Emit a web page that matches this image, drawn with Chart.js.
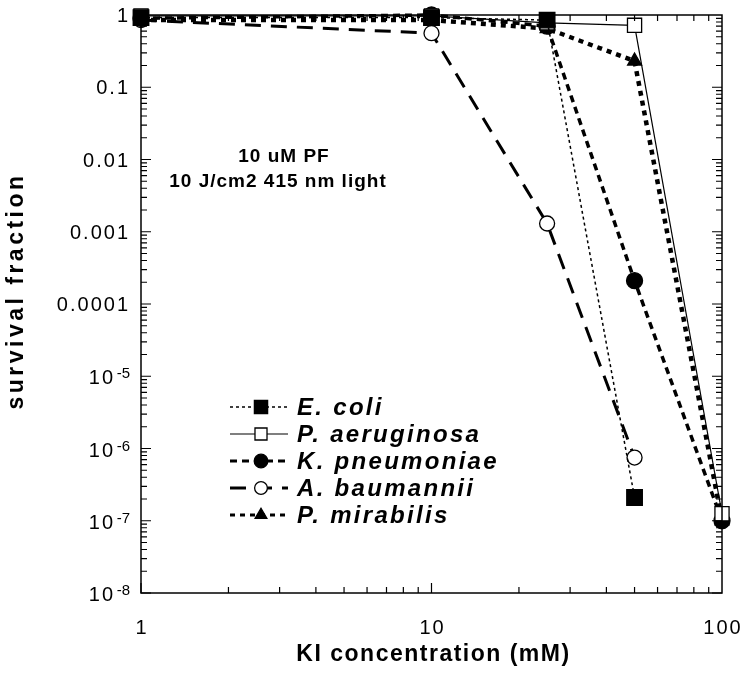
<!DOCTYPE html>
<html>
<head>
<meta charset="utf-8">
<script src="https://cdn.jsdelivr.net/npm/chart.js@4/dist/chart.umd.min.js"></script>
<style>
  body { margin: 0; background: #fff; }
  #wrap { width: 750px; height: 679px; }
</style>
</head>
<body>
<div id="wrap"><canvas id="myChart"></canvas></div>
<script>
// KI concentration (mM)
var concentrations = [1, 10, 25, 50, 100];

// survival fraction per strain (null = not plotted)
var eColi        = [0.92, 0.92, 0.85, 2.1e-7, null];
var pAeruginosa  = [0.97, 0.97, 0.78, 0.72, 1.25e-7];
var kPneumoniae  = [0.9, 1.0, 0.7, 2.1e-4, 1.0e-7];
var aBaumannii   = [0.85, 0.56, 1.3e-3, 7.5e-7, null];
var pMirabilis   = [0.85, 0.85, 0.65, 0.23, 1.0e-7];

var seriesNames = ["E. coli", "P. aeruginosa", "K. pneumoniae", "A. baumannii", "P. mirabilis"];

var xTickLabels = ["1", "10", "100"];
var yTickValues = [1, 0.1, 0.01, 0.001, 0.0001, 1e-5, 1e-6, 1e-7, 1e-8];
var yTickLabels = ["1", "0.1", "0.01", "0.001", "0.0001", "10|-5", "10|-6", "10|-7", "10|-8"];

function pts(ys) {
    return concentrations.map(function (x, i) { return {x: x, y: ys[i]}; });
}

var styles = [
    {dash: [3, 3], width: 1.5, point: 'rect', radius: 11, fill: '#000'},
    {dash: [], width: 1.2, point: 'rect', radius: 10, fill: '#fff'},
    {dash: [7, 5], width: 3.5, point: 'circle', radius: 8, fill: '#000'},
    {dash: [16, 10], width: 3, point: 'circle', radius: 7.5, fill: '#fff'},
    {dash: [5, 5], width: 4.5, point: 'triangle', radius: 8, fill: '#000'}
];
var allSeries = [eColi, pAeruginosa, kPneumoniae, aBaumannii, pMirabilis];

var datasets = allSeries.map(function (s, i) {
    var st = styles[i];
    return {
        label: seriesNames[i],
        data: pts(s),
        borderColor: '#000',
        borderWidth: st.width,
        borderDash: st.dash,
        pointStyle: st.point,
        pointRadius: st.radius,
        pointBackgroundColor: st.fill,
        pointBorderColor: '#000',
        pointBorderWidth: 1.3,
        tension: 0,
        spanGaps: false,
        clip: false
    };
});

var FONT = '"Liberation Sans", Arial, sans-serif';

var axesPlugin = {
    id: 'axesPlugin',
    afterDraw: function (chart) {
        var ctx = chart.ctx;
        var a = chart.chartArea;
        var xs = chart.scales.x, ys = chart.scales.y;
        ctx.save();
        ctx.strokeStyle = '#000';
        ctx.lineWidth = 1.5;
        ctx.setLineDash([]);
        ctx.strokeRect(a.left, a.top, a.right - a.left, a.bottom - a.top);

        // ticks on all four sides, pointing inward
        ctx.lineWidth = 1.2;
        for (var d = 0; d < 2; d++) {
            for (var m = 1; m < 10; m++) {
                var v = Math.pow(10, d) * m;
                var px = xs.getPixelForValue(v);
                var len = m === 1 ? 10 : 6;
                ctx.beginPath();
                ctx.moveTo(px, a.bottom); ctx.lineTo(px, a.bottom - len);
                ctx.moveTo(px, a.top); ctx.lineTo(px, a.top + len);
                ctx.stroke();
            }
        }
        for (var e = -8; e < 0; e++) {
            for (var k = 1; k < 10; k++) {
                var vy = k * Math.pow(10, e);
                var py = ys.getPixelForValue(vy);
                var l2 = k === 1 ? 10 : 6;
                ctx.beginPath();
                ctx.moveTo(a.left, py); ctx.lineTo(a.left + l2, py);
                ctx.moveTo(a.right, py); ctx.lineTo(a.right - l2, py);
                ctx.stroke();
            }
        }

        ctx.fillStyle = '#000';

        // x tick labels
        ctx.letterSpacing = '2px';
        ctx.font = '20px ' + FONT;
        ctx.textAlign = 'center';
        ctx.textBaseline = 'top';
        xTickLabels.forEach(function (t) {
            ctx.fillText(t, xs.getPixelForValue(Number(t)) + 1, a.bottom + 25);
        });

        // y tick labels, with superscript exponents
        ctx.textBaseline = 'alphabetic';
        ctx.textAlign = 'right';
        yTickValues.forEach(function (v, i) {
            var py = ys.getPixelForValue(v);
            var lab = yTickLabels[i];
            var right = a.left - 11;
            if (lab.indexOf('|') >= 0) {
                var parts = lab.split('|');
                ctx.letterSpacing = '2px';
                ctx.font = '20px ' + FONT;
                ctx.fillText(parts[0], right - 15, py + 8);
                ctx.letterSpacing = '0px';
                ctx.font = '15px ' + FONT;
                ctx.fillText(parts[1], right, py + 2);
            } else {
                ctx.letterSpacing = '2px';
                ctx.font = '20px ' + FONT;
                ctx.fillText(lab, right, py + 7);
            }
        });

        // axis titles
        ctx.font = 'bold 23px ' + FONT;
        ctx.letterSpacing = '1.5px';
        ctx.textAlign = 'center';
        ctx.textBaseline = 'middle';
        ctx.fillText('KI concentration (mM)', (a.left + a.right) / 2 + 2, 655);
        ctx.save();
        ctx.translate(17, 291);
        ctx.rotate(-Math.PI / 2);
        ctx.letterSpacing = '3.5px';
        ctx.fillText('survival fraction', 0, 0);
        ctx.restore();

        // annotation
        ctx.font = 'bold 19px ' + FONT;
        ctx.letterSpacing = '1px';
        ctx.fillText('10 uM PF', 284, 157);
        ctx.fillText('10 J/cm2 415 nm light', 278, 182);

        // legend
        var rowY = [407, 434, 461, 488, 515];
        chart.data.datasets.forEach(function (ds, i) {
            var y = rowY[i];
            ctx.save();
            ctx.strokeStyle = '#000';
            ctx.lineWidth = Math.min(ds.borderWidth, 3);
            ctx.setLineDash(ds.borderDash);
            ctx.beginPath();
            ctx.moveTo(230, y); ctx.lineTo(288, y);
            ctx.stroke();
            ctx.setLineDash([]);
            ctx.fillStyle = ds.pointBackgroundColor;
            ctx.lineWidth = 1.3;
            Chart.helpers.drawPoint(ctx, {pointStyle: ds.pointStyle, radius: ds.pointRadius * 0.85, borderWidth: 1.3}, 261, y);
            ctx.restore();
            ctx.font = 'italic bold 24px ' + FONT;
            ctx.letterSpacing = '2.3px';
            ctx.textAlign = 'left';
            ctx.fillStyle = '#000';
            ctx.fillText(ds.label, 297, y + 1);
        });
        ctx.restore();
    }
};

var ctx = document.getElementById('myChart').getContext('2d');
var myChart = new Chart(ctx, {
    type: 'line',
    data: {datasets: datasets},
    options: {
        responsive: true,
        maintainAspectRatio: false,
        animation: false,
        layout: {padding: {left: 141, top: 15, right: 28, bottom: 86}},
        plugins: {legend: {display: false}, tooltip: {enabled: false}},
        scales: {
            x: {type: 'logarithmic', min: 1, max: 100, display: false},
            y: {type: 'logarithmic', min: 1e-8, max: 1, display: false}
        }
    },
    plugins: [axesPlugin]
});
</script>
</body>
</html>
